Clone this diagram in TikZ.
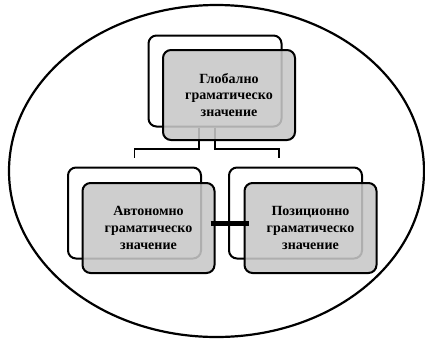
\documentclass[tikz,border=0pt]{standalone}
\usepackage{fontspec}
\setmainfont{Liberation Serif}
\usetikzlibrary{calc}
\tikzset{
  frame/.style={draw=black, line width=2pt, rounded corners=8pt,
    minimum width=133pt, minimum height=91pt, inner sep=0pt},
  card/.style={draw=black, line width=2pt, rounded corners=8pt,
    fill=black!22, fill opacity=0.88, text opacity=1,
    minimum width=132pt, minimum height=90pt, inner sep=0pt,
    align=center, font=\fontsize{14}{16.8}\selectfont\bfseries},
  link/.style={draw=black, line width=1.8pt},
  bar/.style={draw=black, line width=5pt},
  oval/.style={draw=black, line width=2.2pt}
}
\begin{document}
\begin{tikzpicture}[x=1pt, y=-1pt]
  \useasboundingbox (0,0) rectangle (425,338);
  % enclosing ellipse
  \draw[oval] (216.5,171) ellipse [x radius=207.5, y radius=166];

  % back frames
  \node[frame] (gback) at (215,81) {};
  \node[frame] (lback) at (134.5,213) {};
  \node[frame] (rback) at (295.5,213) {};

  % elbow connectors from the top frame down to the two lower frames
  \coordinate (hy) at (0,149);
  \coordinate (gl) at ($(gback.south)+(-16,0)$);
  \coordinate (lt) at ($(lback.north)+(0,-9)$);
  \coordinate (rt) at ($(rback.north)+(-16.5,-9)$);
  \draw[link] (gl) -- (gl |- hy) -| (lt);
  \draw[link] (gback.south) -- (gback.south |- hy) -| (rt);

  % front cards with the labels
  \node[card] (glob) at (229,95) {Глобално\\граматическо\\значение};
  \node[card] (auto) at (148.5,228) {Автономно\\граматическо\\значение};
  \node[card] (pos)  at (310.5,228) {Позиционно\\граматическо\\значение};

  % bar joining the two lower cards
  \draw[bar] ($(auto.east)+(-5,-5)$) -- ($(pos.west)+(5,-5)$);
\end{tikzpicture}
\end{document}
